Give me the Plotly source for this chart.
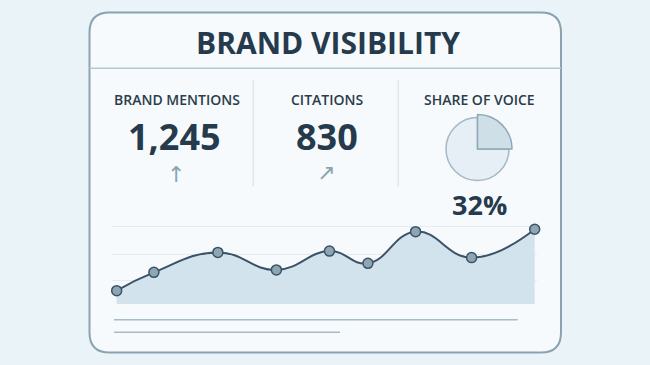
import plotly.graph_objects as go

# ---- data ----
title_text = "BRAND VISIBILITY"
kpi_labels = ["BRAND MENTIONS", "CITATIONS", "SHARE OF VOICE"]
kpi_values = ["1,245", "830", "32%"]
kpi_arrows = ["\u2191", "\u2197"]
pie_slices = [25, 75]          # visible wedge vs rest (as drawn)
trend_x = [0, 0.89, 2.42, 3.82, 5.09, 6.01, 7.15, 8.49, 10]
trend_y = [5.0, 11.7, 19.0, 12.6, 19.5, 15.0, 26.6, 17.1, 27.5]
grid_vals = [8.6, 18.4, 28.4]

W, H = 650, 365
def px(x): return x / W
def py(y): return 1 - y / H

fig = go.Figure()

# area + line
fig.add_trace(go.Scatter(
    x=trend_x, y=trend_y, mode="lines+markers", cliponaxis=False,
    line=dict(color="#3b5366", width=2, shape="spline", smoothing=1.3),
    marker=dict(size=10, color="#8ea6b4", line=dict(color="#3b5366", width=1.5)),
    fill="tozeroy", fillcolor="#d3e3ed", hoverinfo="skip", showlegend=False,
    xaxis="x", yaxis="y"))

# pie: base disc
fig.add_trace(go.Pie(
    values=pie_slices, sort=False, direction="clockwise", rotation=0,
    marker=dict(colors=["rgba(0,0,0,0)", "#e6eff5"],
                line=dict(color=["rgba(0,0,0,0)", "#a3b9c4"], width=[0, 1.5])),
    textinfo="none", hoverinfo="skip", showlegend=False,
    domain=dict(x=[px(477.5 - 31.5), px(477.5 + 31.5)], y=[py(149 + 31.5), py(149 - 31.5)])))
# pie: highlighted wedge
fig.add_trace(go.Pie(
    values=pie_slices, sort=False, direction="clockwise", rotation=0,
    marker=dict(colors=["#cfdfe8", "rgba(0,0,0,0)"],
                line=dict(color=["#8fa8b5", "rgba(0,0,0,0)"], width=[1.5, 0])),
    textinfo="none", hoverinfo="skip", showlegend=False,
    domain=dict(x=[px(477.5 - 34.5), px(477.5 + 34.5)], y=[py(149 + 34.5), py(149 - 34.5)])))

# card shapes
L, R, T, B, r = 89.5, 561, 12.5, 352.5, 20
card_path = (f"M {px(L+r)},{py(T)} L {px(R-r)},{py(T)} Q {px(R)},{py(T)} {px(R)},{py(T+r)} "
             f"L {px(R)},{py(B-r)} Q {px(R)},{py(B)} {px(R-r)},{py(B)} "
             f"L {px(L+r)},{py(B)} Q {px(L)},{py(B)} {px(L)},{py(B-r)} "
             f"L {px(L)},{py(T+r)} Q {px(L)},{py(T)} {px(L+r)},{py(T)} Z")
shapes = [
    dict(type="path", xref="paper", yref="paper", path=card_path,
         fillcolor="#f6fafc", line=dict(color="#8aa3b1", width=2), layer="below"),
    dict(type="line", xref="paper", yref="paper", x0=px(L), x1=px(R), y0=py(68.3), y1=py(68.3),
         line=dict(color="#b7c8d1", width=1.5)),
    dict(type="line", xref="paper", yref="paper", x0=px(253.3), x1=px(253.3), y0=py(80), y1=py(186.7),
         line=dict(color="#dde7ec", width=1.5)),
    dict(type="line", xref="paper", yref="paper", x0=px(398.3), x1=px(398.3), y0=py(80), y1=py(186.7),
         line=dict(color="#dde7ec", width=1.5)),
    dict(type="line", xref="paper", yref="paper", x0=px(114), x1=px(517.7), y0=py(319.7), y1=py(319.7),
         line=dict(color="#a6bbc7", width=1.5)),
    dict(type="line", xref="paper", yref="paper", x0=px(114), x1=px(340), y0=py(332.3), y1=py(332.3),
         line=dict(color="#a6bbc7", width=1.5)),
]

dark = "#263a4d"
ff = "Open Sans, DejaVu Sans, sans-serif"
ann = [
    dict(text=title_text, x=px(327.5), y=py(42.3), font=dict(size=30, color=dark, family=ff, weight=700)),
]
label_x = [176.7, 327, 479]
for lab, xx in zip(kpi_labels, label_x):
    ann.append(dict(text=lab, x=px(xx), y=py(99.3), font=dict(size=14, color="#2c3c4b", family=ff, weight=600)))
ann.append(dict(text=kpi_values[0], x=px(174.7), y=py(136), font=dict(size=36, color=dark, family=ff, weight=700)))
ann.append(dict(text=kpi_values[1], x=px(326.7), y=py(136), font=dict(size=36, color=dark, family=ff, weight=700)))
ann.append(dict(text=kpi_values[2], x=px(479.7), y=py(204), font=dict(size=27, color=dark, family=ff, weight=700)))
ann.append(dict(text=kpi_arrows[0], x=px(175.7), y=py(174), font=dict(size=22, color="#8ba5ae", family="DejaVu Sans")))
ann.append(dict(text=kpi_arrows[1], x=px(326), y=py(173), font=dict(size=22, color="#8ba5ae", family="DejaVu Sans")))
for a in ann:
    a.update(xref="paper", yref="paper", xanchor="center", yanchor="middle", showarrow=False)

ppu = 41.8
fig.update_layout(
    width=W, height=H, margin=dict(l=0, r=0, t=0, b=0),
    paper_bgcolor="#eaf3f7", plot_bgcolor="rgba(0,0,0,0)",
    shapes=shapes, annotations=ann,
    xaxis=dict(domain=[px(112), px(537)], range=[(112 - 116.7) / ppu, (537 - 116.7) / ppu],
               showgrid=False, zeroline=False, showticklabels=False, showline=False, fixedrange=True),
    yaxis=dict(domain=[py(304.3), py(304.3 - 40 * 2.73)], range=[0, 40],
               tickvals=grid_vals, showgrid=True, gridcolor="#e2ecf1", gridwidth=1,
               zeroline=False, showticklabels=False, showline=False, fixedrange=True),
)

fig.write_html("out.html", config=dict(displayModeBar=False),
               post_script="document.body.style.margin='0';document.body.style.background='#eaf3f7';")
